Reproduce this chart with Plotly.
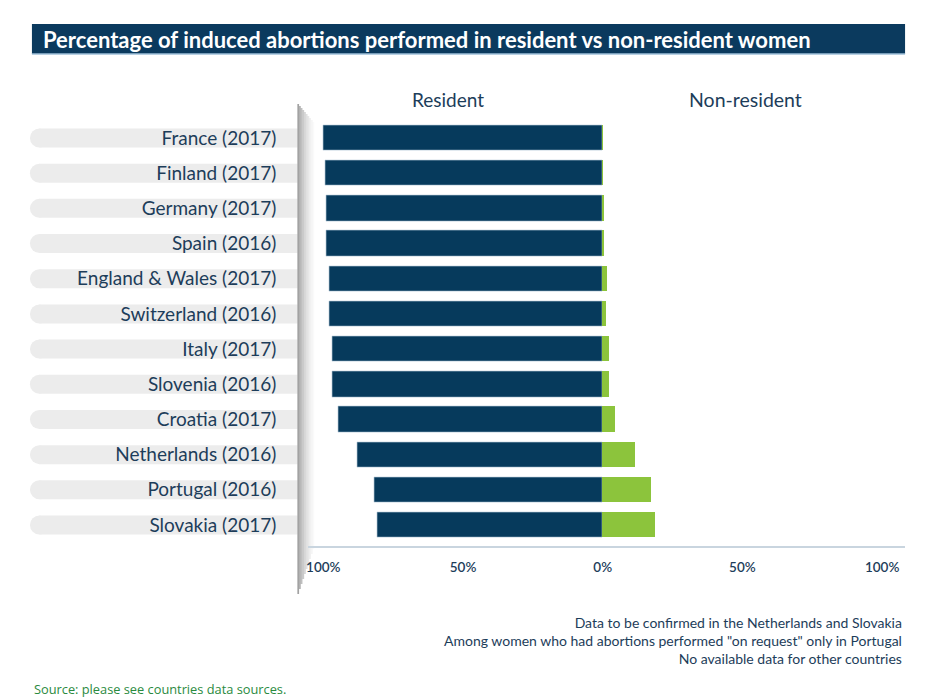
import plotly.graph_objects as go

countries = ["France (2017)", "Finland (2017)", "Germany (2017)", "Spain (2016)",
             "England & Wales (2017)", "Switzerland (2016)", "Italy (2017)",
             "Slovenia (2016)", "Croatia (2017)", "Netherlands (2016)",
             "Portugal (2016)", "Slovakia (2017)"]
resident = [99.9, 99.4, 98.9, 98.9, 97.9, 97.9, 96.8, 96.8, 94.8, 87.9, 81.9, 80.8]
non_resident = [0.1, 0.1, 0.6, 0.6, 1.8, 1.4, 2.5, 2.5, 4.6, 11.5, 17.5, 18.7]
tick_vals = [-100, -50, 0, 50, 100]
tick_text = ["100%", "50%", "0%", "50%", "100%"]
title = "Percentage of induced abortions performed in resident vs non-resident women"
notes = ["Data to be confirmed in the Netherlands and Slovakia",
         "Among women who had abortions performed \"on request\" only in Portugal",
         "No available data for other countries"]
source = "Source: please see countries data sources."

W, H = 934, 698
NAVY = "#063a5c"
GREEN = "#8cc43c"
TEXT = "#1d3d5a"
FONT = "Lato"

def px(x):
    return x / W

def py(y):
    return 1 - y / H

fig = go.Figure()
fig.add_trace(go.Bar(y=countries, x=[-v for v in resident], orientation="h",
                     marker=dict(color=NAVY, line=dict(color="#a9bfd0", width=0.6)),
                     width=0.72, name="Resident", hoverinfo="skip"))
fig.add_trace(go.Bar(y=countries, x=non_resident, orientation="h",
                     marker=dict(color=GREEN, line=dict(width=0)),
                     width=0.72, name="Non-resident", hoverinfo="skip"))

shapes = []
# title bar
shapes.append(dict(type="rect", xref="paper", yref="paper", x0=px(30), x1=px(905),
                   y0=py(54), y1=py(24), fillcolor="#0b3a5e", line=dict(width=0), layer="below"))
shapes.append(dict(type="line", xref="paper", yref="paper", x0=px(30), x1=px(905),
                   y0=py(54), y1=py(54), line=dict(color="#9fc0da", width=1.5)))
# label pills
for i in range(len(countries)):
    shapes.append(dict(type="circle", xref="paper", yref="y", x0=px(28), x1=px(47),
                       y0=i - 0.27, y1=i + 0.27, fillcolor="#ececec",
                       line=dict(width=0), layer="below"))
    shapes.append(dict(type="rect", xref="paper", yref="y", x0=px(37.5), x1=px(296),
                       y0=i - 0.27, y1=i + 0.27, fillcolor="#ececec",
                       line=dict(width=0), layer="below"))
# page shadow
alphas = [0.48, 0.4, 0.33, 0.27, 0.21, 0.16, 0.12, 0.08, 0.05, 0.025]
for k, a in enumerate(alphas):
    shapes.append(dict(type="rect", xref="paper", yref="paper",
                       x0=px(296 + 1.7 * k), x1=px(297.7 + 1.7 * k),
                       y0=py(594 - 5 * k), y1=py(104 + 2 * k),
                       fillcolor=f"rgba(60,60,60,{a})", line=dict(width=0), layer="below"))

annotations = [
    dict(text=f"<b>{title}</b>", xref="paper", yref="paper", x=px(39), y=py(39),
         xanchor="left", yanchor="middle", showarrow=False,
         font=dict(family=FONT, size=22, color="white")),
    dict(text="Resident", xref="x", yref="paper", x=-55.5, y=py(100),
         xanchor="center", yanchor="middle", showarrow=False,
         font=dict(family=FONT, size=19, color=TEXT)),
    dict(text="Non-resident", xref="x", yref="paper", x=51, y=py(100),
         xanchor="center", yanchor="middle", showarrow=False,
         font=dict(family=FONT, size=19.5, color=TEXT)),
    dict(text="<br>".join(notes), xref="paper", yref="paper", x=px(904), y=py(612),
         xanchor="right", yanchor="top", align="right", showarrow=False,
         font=dict(family=FONT, size=14, color=TEXT)),
    dict(text=source, xref="paper", yref="paper", x=px(30), y=py(689),
         xanchor="left", yanchor="middle", showarrow=False,
         font=dict(family="Open Sans", size=12.8, color="#2a8a3e")),
]

row = 35.2
top_c, bot_c = 138, 525
fig.update_layout(
    width=W, height=H, margin=dict(l=0, r=0, t=0, b=0),
    paper_bgcolor="white", plot_bgcolor="white",
    barmode="relative", bargap=0, showlegend=False,
    shapes=shapes, annotations=annotations,
    xaxis=dict(domain=[px(307), px(905)], range=[-(602 - 307) / 2.8, (905 - 602) / 2.8],
               anchor="free", position=py(547),
               tickvals=tick_vals, ticktext=tick_text, showgrid=False, zeroline=False,
               showline=True, linecolor="#c9d5df", linewidth=2, ticks="",
               ticklabelstandoff=8,
               tickfont=dict(family=FONT, size=13.5, color=TEXT, weight=600), fixedrange=True),
    yaxis=dict(domain=[py(bot_c + row / 2), py(top_c - row / 2)],
               range=[len(countries) - 0.5, -0.5], type="category",
               categoryorder="array", categoryarray=countries,
               showgrid=False, zeroline=False, showline=False, ticks="",
               ticklabelstandoff=31,
               tickfont=dict(family=FONT, size=19, color=TEXT), fixedrange=True),
)

fig.write_html("out.html", config={"displayModeBar": False},
               post_script="document.body.style.margin='0px';document.body.style.overflow='hidden';")
